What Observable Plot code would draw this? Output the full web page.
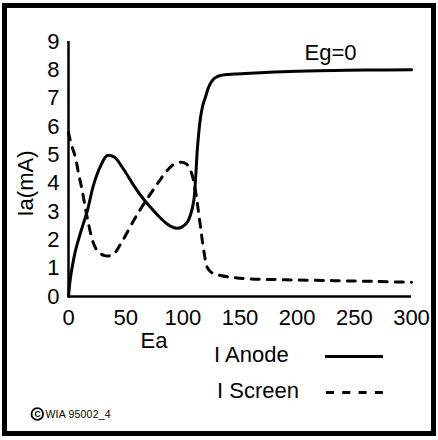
<!DOCTYPE html>
<html>
<head>
<meta charset="utf-8">
<script src="https://cdn.jsdelivr.net/npm/d3@7"></script>
<script src="https://cdn.jsdelivr.net/npm/@observablehq/plot@0.6"></script>
<style>
  html, body { margin: 0; padding: 0; background: #fff; }
  #wrap { position: relative; width: 438px; height: 440px; overflow: hidden; font-family: "Liberation Sans", Arial, sans-serif; color: #000; }
  #frame { position: absolute; left: 2px; top: 3px; width: 424px; height: 423px; border: 5.5px solid #000; pointer-events: none; }
  #chart { position: absolute; left: 0; top: 0; }
  #overlay { position: absolute; left: 0; top: 0; font-family: "Liberation Sans", Arial, sans-serif; }
</style>
</head>
<body>
<div id="wrap">
  <div id="chart"></div>
  <svg id="overlay" width="438" height="440">
    <text x="214" y="362" font-size="22">I Anode</text>
    <text x="217" y="398" font-size="22">I Screen</text>
    <line x1="325" x2="383" y1="356.5" y2="356.5" stroke="#000" stroke-width="3"/>
    <line x1="326" x2="383" y1="392.5" y2="392.5" stroke="#000" stroke-width="3" stroke-dasharray="8,8.3"/>
    <circle cx="37.3" cy="414" r="5.8" fill="none" stroke="#000" stroke-width="1.8"/>
    <text x="37.5" y="417.3" font-size="8.5" font-weight="bold" text-anchor="middle">C</text>
    <text x="45.5" y="418" font-size="10.5" letter-spacing="0.2">WIA 95002_4</text>
  </svg>
  <div id="frame"></div>
</div>
<script>
// Ea (V) values for anode current
const anodeEa = [0, 1.5, 3.2, 6, 10.5, 16.3, 22, 28, 33.8, 40, 48, 57, 64, 71.7, 79, 86, 91, 95, 99, 103.8, 107, 109.6, 111.2, 112.6, 114, 115.5, 117.5, 119.8, 122.5, 125.7, 129, 133, 145, 159, 180, 200, 232, 260, 300];
const anodeIa = [0, 0.6, 1.03, 1.6, 2.25, 3.0, 3.95, 4.6, 4.97, 4.92, 4.5, 3.92, 3.52, 3.15, 2.83, 2.57, 2.45, 2.41, 2.45, 2.62, 2.92, 3.39, 4.2, 5.15, 5.8, 6.33, 6.75, 7.04, 7.38, 7.62, 7.74, 7.8, 7.85, 7.88, 7.92, 7.95, 7.98, 7.99, 8.0];

// Ea (V) values for screen current
const screenEa = [0, 1, 3, 6, 9, 12, 16.3, 22, 26, 31, 35, 39.6, 47, 57, 64, 71.7, 79, 86.3, 92, 98, 103, 106.7, 109, 111, 112.5, 113.9, 115.5, 117, 119, 121.3, 125, 133, 145, 159, 190, 232, 270, 300];
const screenIa = [5.8, 5.6, 5.3, 4.92, 4.3, 3.74, 2.8, 1.86, 1.58, 1.45, 1.43, 1.5, 1.95, 2.68, 3.15, 3.62, 4.05, 4.45, 4.66, 4.74, 4.68, 4.45, 4.15, 3.74, 3.35, 2.92, 2.45, 1.98, 1.45, 1.03, 0.85, 0.74, 0.67, 0.62, 0.59, 0.56, 0.53, 0.5];

const xTicks = [0, 50, 100, 150, 200, 250, 300];
const yTicks = [0, 1, 2, 3, 4, 5, 6, 7, 8, 9];

const anode = anodeEa.map((x, i) => ({x, y: anodeIa[i]}));
const screen = screenEa.map((x, i) => ({x, y: screenIa[i]}));

const chart = Plot.plot({
  width: 438,
  height: 355,
  marginLeft: 68,
  marginRight: 27,
  marginTop: 41,
  marginBottom: 59,
  style: {fontFamily: "'Liberation Sans', Arial, sans-serif", fontSize: "22px", color: "#000", background: "transparent", overflow: "visible"},
  x: {domain: [0, 300], ticks: xTicks, label: null},
  y: {domain: [0, 9], ticks: yTicks, label: null},
  marks: [
    Plot.axisX({ticks: xTicks, tickSize: 0, tickPadding: 13, fontSize: 22, label: null}),
    Plot.axisY({ticks: yTicks, tickSize: 0, tickPadding: 9, fontSize: 22, label: null}),
    Plot.ruleX([0], {y1: 0, y2: 9, stroke: "#000", strokeWidth: 2.5}),
    Plot.ruleY([0], {x1: 0, x2: 300, stroke: "#000", strokeWidth: 2.5}),
    Plot.line(screen, {x: "x", y: "y", stroke: "#000", strokeWidth: 3, strokeDasharray: "8,8", curve: "catmull-rom"}),
    Plot.line(anode, {x: "x", y: "y", stroke: "#000", strokeWidth: 3, curve: "catmull-rom"}),
    Plot.text(["Ia(mA)"], {text: d => d, frameAnchor: "left", textAnchor: "middle", lineAnchor: "middle", rotate: -90, dx: -42.5, dy: 14.5, fontSize: 22}),
    Plot.text(["Ea"], {text: d => d, frameAnchor: "bottom-left", textAnchor: "middle", lineAnchor: "middle", dx: 85.5, dy: 44, fontSize: 22}),
    Plot.text(["Eg=0"], {text: d => d, frameAnchor: "top-left", textAnchor: "middle", lineAnchor: "middle", dx: 262, dy: 11, fontSize: 22})
  ]
});
document.getElementById("chart").appendChild(chart);
</script>
</body>
</html>
